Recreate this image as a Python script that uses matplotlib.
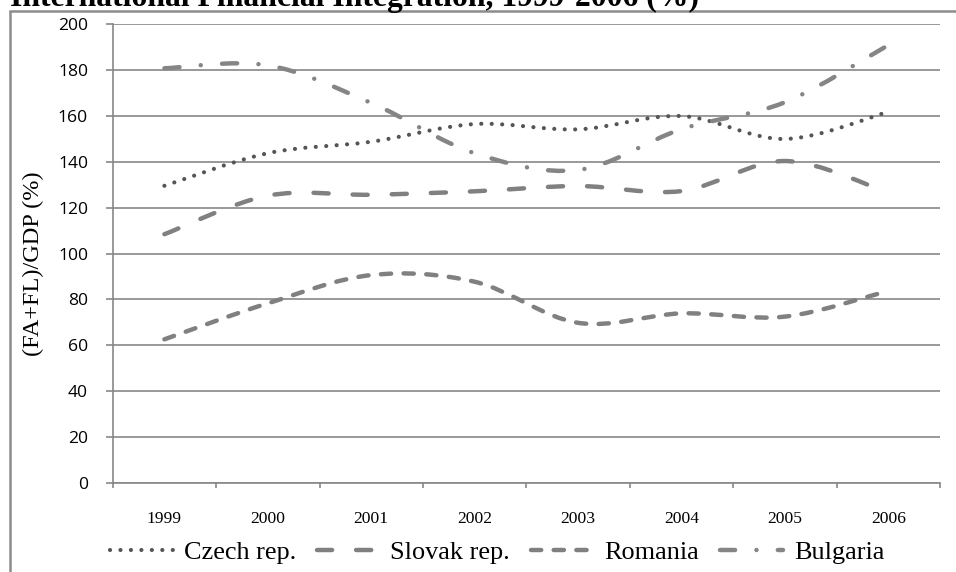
import numpy as np
import matplotlib
matplotlib.use("Agg")
import matplotlib.pyplot as plt
from matplotlib.path import Path
from matplotlib.patches import PathPatch, Rectangle
from matplotlib.lines import Line2D
from matplotlib.font_manager import FontProperties


years = ["1999", "2000", "2001", "2002", "2003", "2004", "2005", "2006"]
czech = [129.5, 143.7, 148.7, 156.4, 154.1, 159.9, 149.9, 161.7]
slovak = [108.4, 125.2, 125.6, 127.1, 129.4, 127.2, 140.3, 126.5]
romania = [62.6, 78.3, 90.6, 87.7, 69.8, 73.9, 72.5, 83.7]
bulgaria = [180.7, 182.0, 165.6, 143.7, 136.4, 154.2, 165.9, 190.8]
y_ticks = list(range(0, 201, 20))

title = "International Financial Integration, 1999-2006 (%)"
y_label = "(FA+FL)/GDP (%)"

SERIF = "Liberation Serif"
SANS = "Open Sans"


def smooth_path(xs, ys):
    # Excel-like smoothed line: cubic Bezier through every data point
    pts = np.column_stack([xs, ys]).astype(float)
    n = len(pts)
    verts = [pts[0]]
    codes = [Path.MOVETO]
    for i in range(n - 1):
        p0 = pts[max(i - 1, 0)]
        p1 = pts[i]
        p2 = pts[i + 1]
        p3 = pts[min(i + 2, n - 1)]
        verts += [p1 + (p2 - p0) / 6, p2 - (p3 - p1) / 6, p2]
        codes += [Path.CURVE4] * 3
    return Path(verts, codes)


series = [
    ("Czech rep.", czech, "#555555", 3.0, (0, (0.01, 2.5))),
    ("Slovak rep.", slovak, "#808080", 3.2, (0, (3.4, 5.4))),
    ("Romania", romania, "#808080", 3.2, (0, (2.3, 2.8))),
    ("Bulgaria", bulgaria, "#858585", 3.2, (0, (3.4, 4.8, 0.01, 4.8))),
]

fig = plt.figure(figsize=(9.56, 5.72), dpi=100)
ax = fig.add_axes([112.7 / 956, 1 - 483 / 572, (940 - 112.7) / 956, 459 / 572])

x = np.arange(len(years))
grid_color = "#878787"

handles = []
for name, vals, color, lw, ls in series:
    patch = PathPatch(smooth_path(x, vals), fill=False, edgecolor=color,
                      linewidth=lw, linestyle=ls, capstyle="round", zorder=3)
    ax.add_patch(patch)
    handles.append(Line2D([], [], color=color, linewidth=lw, linestyle=ls,
                          dash_capstyle="round", label=name))

ax.set_xlim(-0.5, len(years) - 0.5)
ax.set_ylim(0, 200)
ax.set_yticks(y_ticks)
ax.set_yticklabels([str(v) for v in y_ticks], fontfamily=SANS, fontsize=12.6)
ax.yaxis.grid(True, color=grid_color, linewidth=1.2)
ax.set_axisbelow(True)

ax.set_xticks(x)
ax.set_xticklabels(years, fontfamily=SERIF, fontsize=12.6)
ax.set_xticks(np.arange(-0.5, len(years), 1.0), minor=True)
ax.tick_params(axis="x", which="major", length=0, pad=20)
ax.tick_params(axis="x", which="minor", length=3.8, width=1.2, color=grid_color, direction="out")
ax.tick_params(axis="y", length=4.8, width=1.2, color=grid_color, pad=13)

for side in ["top", "right"]:
    ax.spines[side].set_visible(False)
for side in ["left", "bottom"]:
    ax.spines[side].set_color(grid_color)
    ax.spines[side].set_linewidth(1.2)

fig.text(33 / 956, 1 - 263.5 / 572, y_label, rotation=90, ha="center", va="center",
         fontfamily=SERIF, fontsize=17.5)

# the title sits mostly above the top edge, as in the source picture
fig.text(10 / 956, 1 - 6 / 572, title, ha="left", va="baseline",
         fontfamily=SERIF, fontweight="bold", fontsize=22.8)

# outer chart border, only its left and top edges fall inside the picture
fig.patches.append(Rectangle((10 / 956, -0.2), 2.0, 0.2 + (1 - 11.5 / 572), fill=False,
                             edgecolor="#8c8c8c", linewidth=1.8, transform=fig.transFigure))

leg_font = FontProperties(family=SERIF, size=18.9)
leg = fig.legend(handles=handles, loc="center", bbox_to_anchor=(0.52, 1 - 552 / 572), ncol=4,
                 frameon=False, prop=leg_font, handlelength=2.4,
                 handletextpad=0.4, columnspacing=0.8, borderpad=0, borderaxespad=0)
for t in leg.get_texts():
    t.set_fontproperties(leg_font)

fig.savefig("out.png", dpi=100)
